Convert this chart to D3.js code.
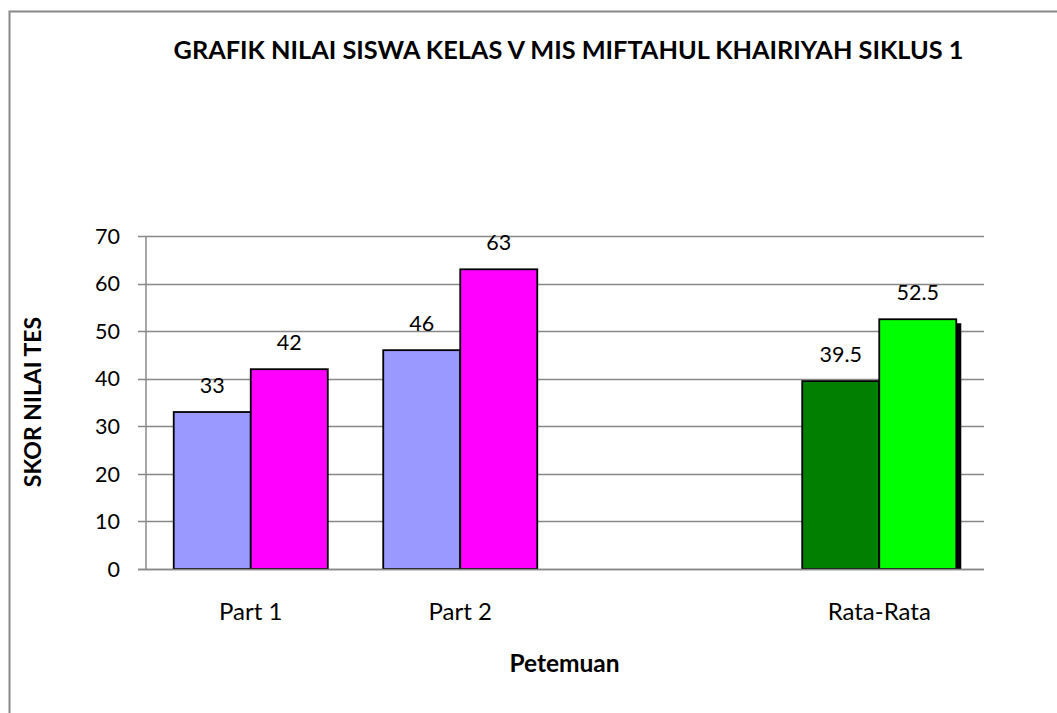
<!DOCTYPE html>
<html><head><meta charset="utf-8">
<script src="https://cdn.jsdelivr.net/npm/d3@7"></script>
<style>body{margin:0;background:#fff}svg{display:block}</style>
</head><body>
<script>
const title = "GRAFIK NILAI SISWA KELAS V MIS MIFTAHUL KHAIRIYAH SIKLUS 1";
const categories = ["Part 1", "Part 2", "", "Rata-Rata"];
const series1 = [33, 46, null, 39.5];
const series2 = [42, 63, null, 52.5];
const colors1 = ["#9999FF", "#9999FF", "#9999FF", "#007F00"];
const colors2 = ["#FF00FF", "#FF00FF", "#FF00FF", "#00FF00"];
const shadowed = [false, false, false, true];
const yTicks = [0, 10, 20, 30, 40, 50, 60, 70];
const yTitle = "SKOR NILAI TES";
const xTitle = "Petemuan";

(function () {
const W = 1057, H = 713;
const font = "Lato, 'Open Sans', sans-serif";
const svg = d3.select("body").append("svg").attr("width", W).attr("height", H);

// outer frame
svg.append("rect").attr("x", 9.5).attr("y", 11.5).attr("width", 1100).attr("height", 800)
  .attr("fill", "#fff").attr("stroke", "#888").attr("stroke-width", 2);

const pLeft = 146, pRight = 984, pTop = 236, pBottom = 569;
const x = d3.scaleBand().domain(d3.range(categories.length)).range([pLeft, pRight]).paddingInner(0).paddingOuter(0);
const y = d3.scaleLinear().domain([0, 70]).range([pBottom, pTop]);

const bw = x.bandwidth();
const barW = bw / (2 + 0.72);

// gridlines
svg.append("g").selectAll("line").data(yTicks).join("line")
  .attr("x1", pLeft - 8).attr("x2", pRight)
  .attr("y1", d => Math.round(y(d)) + 0.5).attr("y2", d => Math.round(y(d)) + 0.5)
  .attr("stroke", "#888").attr("stroke-width", 1.5);

// y axis line
svg.append("line").attr("x1", pLeft).attr("x2", pLeft).attr("y1", pTop).attr("y2", pBottom)
  .attr("stroke", "#888").attr("stroke-width", 1.5);

// tick labels
svg.append("g").selectAll("text").data(yTicks).join("text")
  .attr("x", 120).attr("y", d => y(d)).attr("dy", "0.36em").attr("text-anchor", "end")
  .attr("font-family", font).attr("font-size", 21.5).attr("fill", "#000").text(d => d);

const defs = svg.append("defs");
defs.append("clipPath").attr("id", "plotclip").append("rect")
  .attr("x", pLeft).attr("y", 0).attr("width", W).attr("height", pBottom);

const idx = d3.range(categories.length);
const cx = i => x(i) + bw / 2;

// shadows
svg.append("g").attr("clip-path", "url(#plotclip)").selectAll("rect")
  .data(idx.filter(i => shadowed[i] && series2[i] != null)).join("rect")
  .attr("x", i => cx(i) + 5).attr("y", i => y(series2[i]) + 4)
  .attr("width", barW).attr("height", i => pBottom - y(series2[i]))
  .attr("fill", "#000");

// bars series 1
svg.append("g").selectAll("rect").data(idx.filter(i => series1[i] != null)).join("rect")
  .attr("x", i => cx(i) - barW).attr("y", i => y(series1[i]))
  .attr("width", barW).attr("height", i => pBottom - y(series1[i]))
  .attr("fill", i => colors1[i]).attr("stroke", "#000").attr("stroke-width", 1.8);

// bars series 2
svg.append("g").selectAll("rect").data(idx.filter(i => series2[i] != null)).join("rect")
  .attr("x", i => cx(i)).attr("y", i => y(series2[i]))
  .attr("width", barW).attr("height", i => pBottom - y(series2[i]))
  .attr("fill", i => colors2[i]).attr("stroke", "#000").attr("stroke-width", 1.8);

// baseline over bars
svg.append("line").attr("x1", pLeft - 8).attr("x2", pRight).attr("y1", pBottom + 0.5).attr("y2", pBottom + 0.5)
  .attr("stroke", "#888").attr("stroke-width", 1.5);

// value labels
const lbl = (vals, off) => svg.append("g").selectAll("text").data(idx.filter(i => vals[i] != null)).join("text")
  .attr("x", i => cx(i) + off * barW).attr("y", i => y(vals[i]) - 19)
  .attr("text-anchor", "middle").attr("font-family", font).attr("font-size", 21.5).attr("fill", "#000")
  .text(i => vals[i]);
lbl(series1, -0.5);
lbl(series2, 0.5);

// category labels
svg.append("g").selectAll("text").data(idx).join("text")
  .attr("x", i => cx(i)).attr("y", 619.5).attr("text-anchor", "middle")
  .attr("font-family", font).attr("font-size", 24).attr("fill", "#000").text(i => categories[i]);

// titles
svg.append("text").attr("x", 568.5).attr("y", 59).attr("text-anchor", "middle")
  .attr("font-family", font).attr("font-weight", "bold").attr("font-size", 25.3).attr("fill", "#000")
  .text(title);
svg.append("text").attr("x", 564.5).attr("y", 672).attr("text-anchor", "middle")
  .attr("font-family", font).attr("font-weight", "bold").attr("font-size", 24.5).attr("fill", "#000")
  .text(xTitle);
svg.append("text").attr("transform", "translate(41,402) rotate(-90)").attr("text-anchor", "middle")
  .attr("font-family", font).attr("font-weight", "bold").attr("font-size", 23).attr("fill", "#000")
  .text(yTitle);
})();
</script>
</body></html>
